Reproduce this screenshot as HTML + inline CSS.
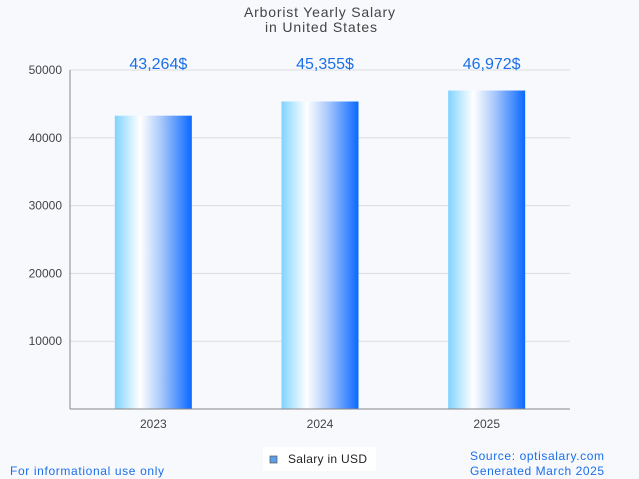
<!DOCTYPE html>
<html><head><meta charset="utf-8"><style>
body{margin:0;background:#f8f9fd;}
svg{display:block;font-family:"Liberation Sans",sans-serif;}
</style></head><body>
<svg id="c" width="639" height="479">
<defs><linearGradient id="g" x1="0" x2="1" y1="0" y2="0">
<stop offset="0" stop-color="#7fd3ff"/><stop offset="0.18" stop-color="#c8ecff"/><stop offset="0.33" stop-color="#ffffff"/><stop offset="0.6" stop-color="#a9c9fb"/><stop offset="1" stop-color="#0a68ff"/></linearGradient></defs>
<rect width="639" height="479" fill="#f8f9fd"/>
<text x="244" y="17" textLength="151" font-size="14" fill="#444">Arborist Yearly Salary</text>
<text x="265" y="32" textLength="112" font-size="14" fill="#444">in United States</text>
<g id="grid"></g><g id="bars"></g>
<line x1="70" y1="409" x2="570" y2="409" stroke="#888"/>
<line x1="70" y1="70" x2="70" y2="409" stroke="#888"/>
<rect x="263" y="447" width="113" height="24" fill="#fff"/>
<rect x="270" y="456" width="7" height="7" fill="#5aa0e8" stroke="#555" stroke-width="0.7"/>
<text x="288" y="463" textLength="79" font-size="12" fill="#222">Salary in USD</text>
<text x="10" y="475" textLength="154" font-size="12" fill="#1a6fe8">For informational use only</text>
<text x="470" y="460" textLength="134" font-size="12" fill="#1a6fe8">Source: optisalary.com</text>
<text x="470" y="475" textLength="134" font-size="12" fill="#1a6fe8">Generated March 2025</text>
</svg>
<script>
const categories=["2023","2024","2025"];
const values=[43264,45355,46972];
const valueLabels=["43,264$","45,355$","46,972$"];
const yTicks=[10000,20000,30000,40000,50000];
const NS="http://www.w3.org/2000/svg";
const x0=70,x1=570,yb=409,yt=70,ymax=50000;
const y=v=>yb-(v/ymax)*(yb-yt);
const bw=(x1-x0)/categories.length;
const xc=i=>x0+bw*(i+0.5);
function mk(t,a,p,txt){const e=document.createElementNS(NS,t);for(const k in a)e.setAttribute(k,a[k]);if(txt!=null)e.textContent=txt;p.appendChild(e);return e;}
const grid=document.getElementById('grid'),bars=document.getElementById('bars');
yTicks.forEach(v=>{
const l=mk('line',{x1:x0,x2:x1,y1:y(v),y2:y(v),stroke:'#ddd'},grid);


const t=mk('text',{x:x0-8,y:y(v)+4,'text-anchor':'end','font-size':12,fill:'#444'},grid,String(v));


});
categories.forEach((c,i)=>{
const w=77;
const r=mk('rect',{x:xc(i)-w/2,y:y(values[i]),width:w,height:yb-y(values[i]),fill:'url(#g)'},bars);


const vl=mk('text',{x:xc(i)+5,y:69,'text-anchor':'middle','font-size':16,fill:'#1a6fe8'},bars,valueLabels[i]);


const xl=mk('text',{x:xc(i),y:428,'text-anchor':'middle','font-size':12,fill:'#444'},bars,c);


});
</script>
</body></html>
